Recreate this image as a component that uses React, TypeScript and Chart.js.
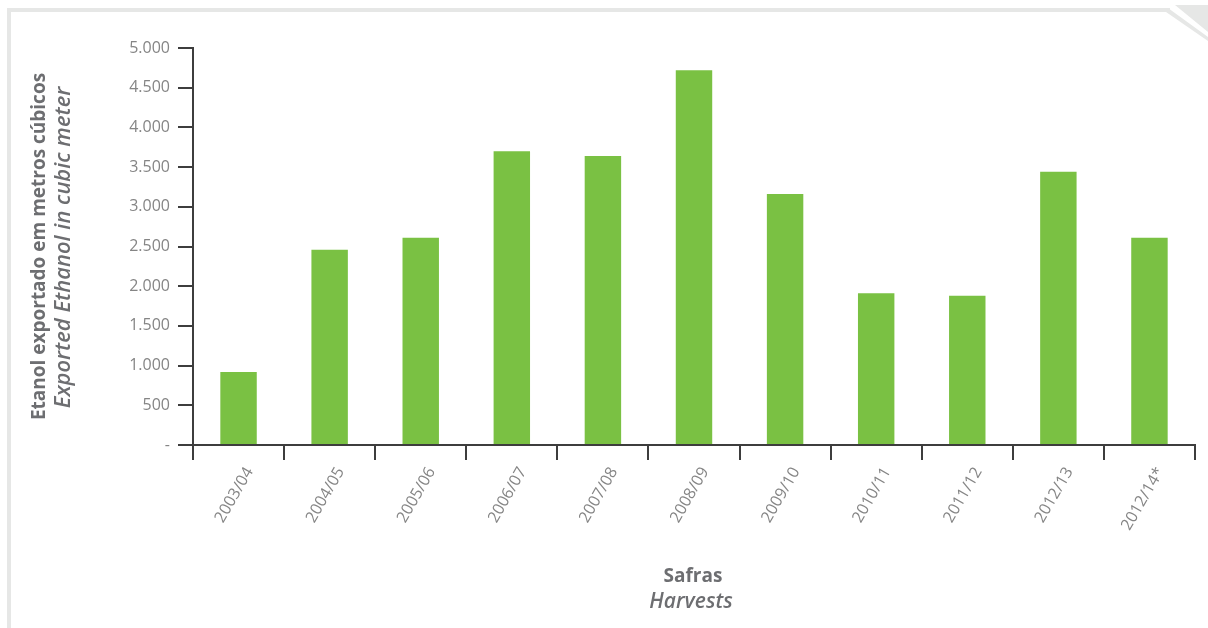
import React, { useEffect, useRef } from "react";
import { Chart, registerables } from "chart.js";

Chart.register(...registerables);

const categories = [
  "2003/04", "2004/05", "2005/06", "2006/07", "2007/08", "2008/09",
  "2009/10", "2010/11", "2011/12", "2012/13", "2012/14*",
];
const exportedEthanol = [920, 2460, 2610, 3700, 3640, 4720, 3160, 1910, 1880, 3440, 2610];
const yTitlePt = "Etanol exportado em metros cúbicos";
const yTitleEn = "Exported Ethanol in cubic meter";
const xTitlePt = "Safras";
const xTitleEn = "Harvests";

const FONT = "'Open Sans', 'Liberation Sans', sans-serif";
const AXIS = "#3d3d3d";
const TICK_TEXT = "#858585";
const TITLE = "#6d6e71";
const FRAME = "#e6e7e6";
const BAR = "#7ac143";

function fmt(v: number): string {
  if (v === 0) return "-";
  return String(v).replace(/\B(?=(\d{3})+(?!\d))/g, ".");
}

const framePlugin = {
  id: "frame",
  beforeDraw(chart: any) {
    const ctx = chart.ctx;
    const W = chart.width;
    ctx.save();
    ctx.fillStyle = FRAME;
    ctx.fillRect(7, 8, 4, chart.height - 8);
    ctx.fillRect(7, 8, 1163, 4);
    ctx.beginPath();
    ctx.moveTo(1168, 8);
    ctx.lineTo(W, 37);
    ctx.lineTo(W, 41);
    ctx.lineTo(1166, 12);
    ctx.closePath();
    ctx.fill();
    ctx.beginPath();
    ctx.moveTo(1175, 5);
    ctx.lineTo(W, 5);
    ctx.lineTo(W, 32);
    ctx.closePath();
    ctx.fill();
    ctx.restore();
  },
};

const titlesPlugin = {
  id: "titles",
  afterDraw(chart: any) {
    const { ctx, chartArea } = chart;
    const cy = (chartArea.top + chartArea.bottom) / 2;
    const cx = (chartArea.left + chartArea.right) / 2;
    ctx.save();
    ctx.fillStyle = TITLE;
    ctx.textAlign = "center";
    ctx.textBaseline = "middle";
    ctx.save();
    ctx.translate(40, cy);
    ctx.rotate(-Math.PI / 2);
    ctx.font = `bold 19px ${FONT}`;
    ctx.fillText(yTitlePt, 0, 0);
    ctx.restore();
    ctx.save();
    ctx.translate(64, cy + 1);
    ctx.rotate(-Math.PI / 2);
    ctx.font = `italic 600 22px ${FONT}`;
    ctx.fillText(yTitleEn, 0, 0);
    ctx.restore();
    ctx.font = `bold 19px ${FONT}`;
    ctx.fillText(xTitlePt, cx - 1, 577);
    ctx.font = `italic 600 21px ${FONT}`;
    ctx.fillText(xTitleEn, cx - 3, 602);
    ctx.restore();
  },
};

export default function App() {
  const ref = useRef<HTMLCanvasElement | null>(null);
  useEffect(() => {
    if (!ref.current) return;
    const chart = new Chart(ref.current, {
      type: "bar",
      data: {
        labels: categories,
        datasets: [
          {
            data: exportedEthanol,
            backgroundColor: BAR,
            borderWidth: 0,
            barPercentage: 0.4,
            categoryPercentage: 1,
          },
        ],
      },
      options: {
        animation: false,
        responsive: false,
        maintainAspectRatio: false,
        layout: { padding: { left: 0, top: 48, right: 13, bottom: 0 } },
        plugins: { legend: { display: false }, tooltip: { enabled: false } },
        scales: {
          x: {
            afterFit(scale: any) {
              scale.height = 183;
            },
            grid: {
              display: true,
              drawOnChartArea: false,
              drawTicks: true,
              tickLength: 15,
              color: AXIS,
              lineWidth: 2,
              offset: true,
            },
            border: { display: true, color: AXIS, width: 2 },
            ticks: {
              color: TICK_TEXT,
              font: { family: FONT, size: 16, weight: "normal" as any },
              minRotation: 60,
              maxRotation: 60,
              padding: 4,
              labelOffset: 11,
              autoSkip: false,
            },
          },
          y: {
            min: 0,
            max: 5000,
            afterFit(scale: any) {
              scale.width = 193;
            },
            grid: {
              display: true,
              drawOnChartArea: false,
              drawTicks: true,
              tickLength: 15,
              color: AXIS,
              lineWidth: 2,
            },
            border: { display: true, color: AXIS, width: 2 },
            ticks: {
              stepSize: 500,
              color: TICK_TEXT,
              font: { family: FONT, size: 16, weight: "normal" as any },
              padding: 8,
              callback: (v: any) => fmt(Number(v)),
            },
          },
        },
      },
      plugins: [framePlugin, titlesPlugin],
    });
    return () => chart.destroy();
  }, []);
  return (
    <div style={{ position: "absolute", left: 0, top: 0, width: 1208, height: 628, background: "#fff" }}>
      <canvas ref={ref} width={1208} height={628} style={{ display: "block" }} />
    </div>
  );
}
